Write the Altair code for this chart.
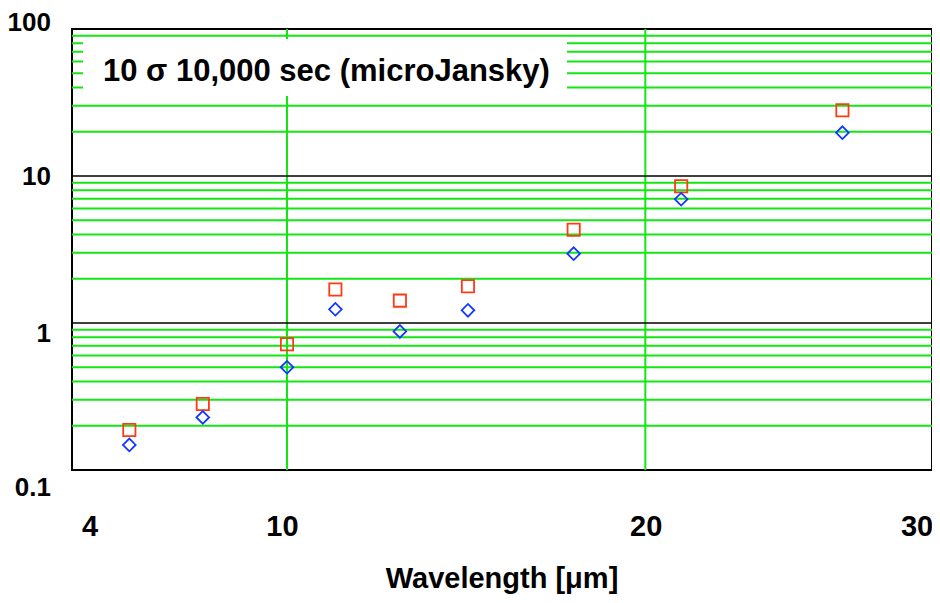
import altair as alt
import pandas as pd

# ---------------- data ----------------
wavelength = [5.6, 7.65, 10.0, 11.35, 13.15, 15.05, 18.0, 21.0, 25.5]
flux_red_squares = [0.187, 0.281, 0.716, 1.69, 1.42, 1.78, 4.31, 8.51, 28.0]
flux_blue_diamonds = [0.148, 0.228, 0.50, 1.24, 0.877, 1.22, 2.96, 6.95, 19.7]

x_tick_values = [4, 10, 20, 28]
x_tick_labels = ["4", "10", "20", "30"]
y_tick_values = [0.1, 1, 10, 100]
y_tick_labels = ["0.1", "1", "10", "100"]

y_grid_minor = [0.2, 0.3, 0.4, 0.5, 0.6, 0.7, 0.8, 0.9,
                2, 3, 4, 5, 6, 7, 8, 9,
                20, 30, 40, 50, 60, 70, 80, 90]
y_grid_major = [1, 10]
x_grid = [10, 20]

annotation = "10 \u03c3 10,000 sec (microJansky)"
x_title = "Wavelength [\u03bcm]"

# ---------------- styling ----------------
FONT = "Liberation Sans"
GREEN = "#14e614"
RED = "#ff3a14"
BLUE = "#1238ff"
W, H = 860, 441

x_label_dx = [18, -4.6, 0.8, -15]
y_label_dy = [18, 10.5, 1.3, -6.5]

x_scale = alt.Scale(domain=[4, 28], nice=False, zero=False)
y_scale = alt.Scale(type="log", domain=[0.1, 100], nice=False)

df_points = pd.DataFrame({
    "wavelength": wavelength,
    "red": flux_red_squares,
    "blue": flux_blue_diamonds,
})

layers = []

layers.append(alt.Chart(pd.DataFrame({"v": y_grid_minor})).mark_rule(
    color=GREEN, strokeWidth=2
).encode(y=alt.Y("v:Q", scale=y_scale, axis=None)))

layers.append(alt.Chart(pd.DataFrame({"v": x_grid})).mark_rule(
    color=GREEN, strokeWidth=2
).encode(x=alt.X("v:Q", scale=x_scale, axis=None)))

layers.append(alt.Chart(pd.DataFrame({"v": y_grid_major})).mark_rule(
    color="black", strokeWidth=1.5
).encode(y=alt.Y("v:Q", scale=y_scale, axis=None)))

layers.append(alt.Chart(pd.DataFrame({"t": [annotation]})).mark_rect(
    color="white"
).encode(x=alt.value(11), x2=alt.value(495), y=alt.value(10), y2=alt.value(67)))

layers.append(alt.Chart(pd.DataFrame({"t": [annotation]})).mark_text(
    font=FONT, fontSize=31, fontWeight="bold", color="black",
    align="left", baseline="alphabetic"
).encode(text="t:N", x=alt.value(31), y=alt.value(51.7)))

# tick labels (real text, positioned through the scales)
for v, lab, dx in zip(x_tick_values, x_tick_labels, x_label_dx):
    layers.append(alt.Chart(pd.DataFrame({"v": [v], "label": [lab]})).mark_text(
        font=FONT, fontSize=29, fontWeight="bold", color="black",
        align="center", baseline="alphabetic", dx=dx
    ).encode(x=alt.X("v:Q", scale=x_scale, axis=None),
             y=alt.value(H + 66), text="label:N"))

for v, lab, dy in zip(y_tick_values, y_tick_labels, y_label_dy):
    layers.append(alt.Chart(pd.DataFrame({"v": [v], "label": [lab]})).mark_text(
        font=FONT, fontSize=26, fontWeight="bold", color="black",
        align="right", baseline="middle", dy=dy
    ).encode(y=alt.Y("v:Q", scale=y_scale, axis=None),
             x=alt.value(-21), text="label:N"))

# x-axis title
layers.append(alt.Chart(pd.DataFrame({"t": [x_title]})).mark_text(
    font=FONT, fontSize=29, fontWeight="bold", color="black",
    align="center", baseline="alphabetic"
).encode(text="t:N", x=alt.value(W / 2), y=alt.value(H + 118)))

layers.append(alt.Chart(df_points).mark_point(
    shape="square", filled=False, color=RED, size=150, strokeWidth=1.8, opacity=1
).encode(
    x=alt.X("wavelength:Q", scale=x_scale, axis=None),
    y=alt.Y("red:Q", scale=y_scale, axis=None),
))

layers.append(alt.Chart(df_points).mark_point(
    shape="diamond", filled=False, color=BLUE, size=160, strokeWidth=1.8, opacity=1
).encode(
    x=alt.X("wavelength:Q", scale=x_scale, axis=None),
    y=alt.Y("blue:Q", scale=y_scale, axis=None),
))

chart = alt.layer(*layers).properties(
    width=W, height=H,
    padding={"left": 64, "top": 21, "right": 0, "bottom": 124},
    autosize=alt.AutoSizeParams(type="none"),
    background="white",
).configure_view(stroke="black", strokeWidth=2)

chart.save("out.html", embed_options={"renderer": "svg", "actions": False})
